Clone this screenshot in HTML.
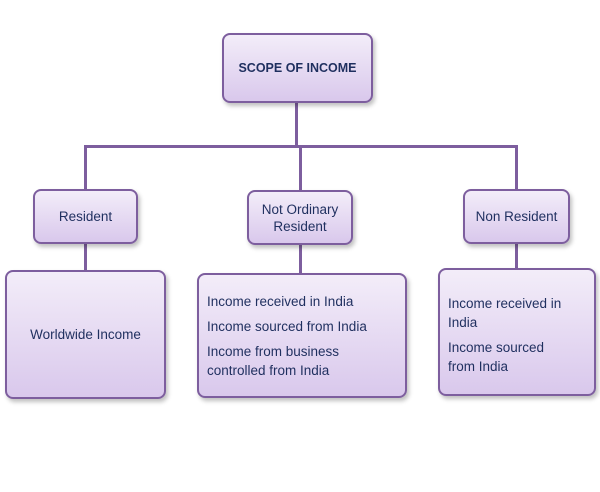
<!DOCTYPE html>
<html><head><style>
body{margin:0;width:600px;height:492px;background:#fff;position:relative;overflow:hidden;font-family:"Liberation Sans",sans-serif;color:#1f2f5f}
.b{position:absolute;box-sizing:border-box;border:2.5px solid #7d5e9e;border-radius:8px;background:linear-gradient(#f3edf9,#d9c8ec);box-shadow:2px 3px 4px rgba(0,0,0,.25);font-size:13.5px}
.c{display:flex;align-items:center;justify-content:center;text-align:center;line-height:17px}
.l{position:absolute;background:#7d5e9e}
p{margin:0}
</style></head><body>
<div class="l" style="left:295px;top:100px;width:3px;height:48px"></div>
<div class="l" style="left:84px;top:145px;width:434px;height:3px"></div>
<div class="l" style="left:84px;top:145px;width:3px;height:46px"></div>
<div class="l" style="left:299px;top:145px;width:3px;height:46px"></div>
<div class="l" style="left:515px;top:145px;width:3px;height:46px"></div>
<div class="l" style="left:84px;top:242px;width:3px;height:30px"></div>
<div class="l" style="left:299px;top:242px;width:3px;height:33px"></div>
<div class="l" style="left:515px;top:242px;width:3px;height:28px"></div>
<div class="b c" style="left:222px;top:33px;width:151px;height:70px;font-weight:bold;font-size:12.5px">SCOPE OF INCOME</div>
<div class="b c" style="left:33px;top:189px;width:105px;height:55px">Resident</div>
<div class="b c" style="left:247px;top:190px;width:106px;height:55px">Not Ordinary<br>Resident</div>
<div class="b c" style="left:463px;top:189px;width:107px;height:55px">Non Resident</div>
<div class="b c" style="left:5px;top:270px;width:161px;height:129px">Worldwide Income</div>
<div class="b" style="left:197px;top:273px;width:210px;height:125px;padding:17px 0 0 8px;line-height:19px">
<p>Income received in India</p><p style="margin-top:6px">Income sourced from India</p><p style="margin-top:6px">Income from business<br>controlled from India</p></div>
<div class="b" style="left:438px;top:268px;width:158px;height:128px;padding:24px 0 0 8px;line-height:19px">
<p>Income received in<br>India</p><p style="margin-top:6px">Income sourced<br>from India</p></div>
</body></html>
